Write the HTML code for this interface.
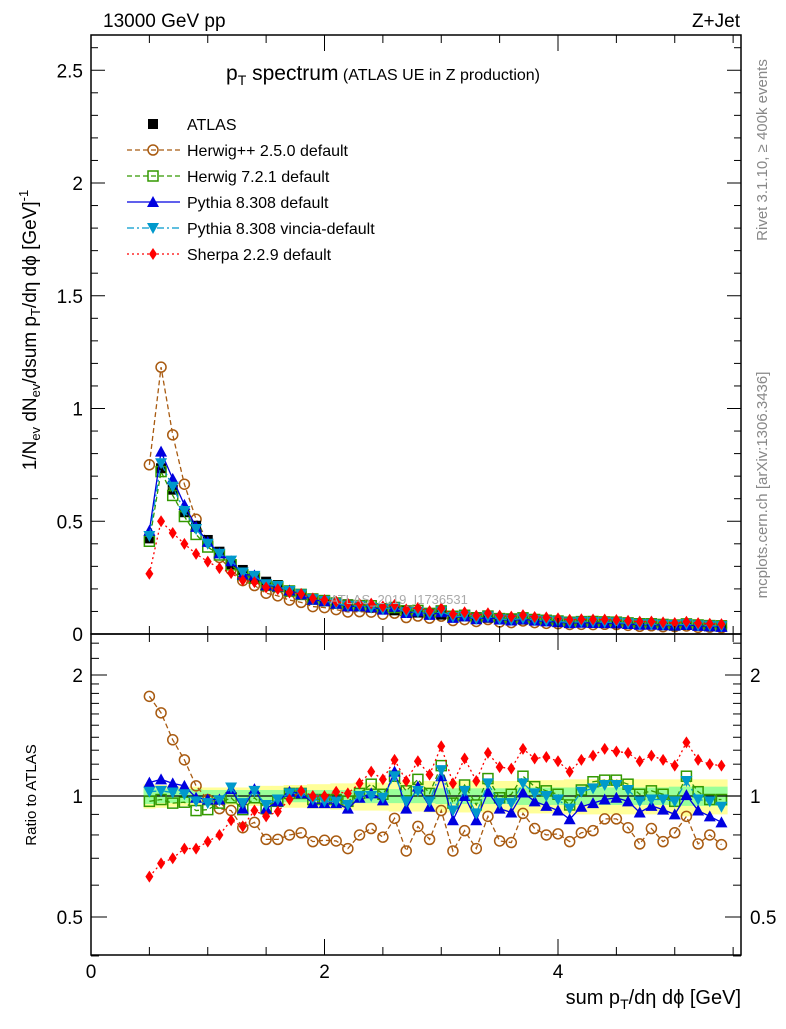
<!DOCTYPE html>
<html><head><meta charset="utf-8"><style>
body{margin:0;background:#fff}
svg text{font-family:"Liberation Sans",sans-serif}
</style></head><body>
<svg id="c" width="786" height="1024" xmlns="http://www.w3.org/2000/svg">
<defs>
<clipPath id="cm"><rect x="91" y="35" width="650" height="599"/></clipPath>
<clipPath id="cr"><rect x="91" y="634" width="650" height="321"/></clipPath>
</defs>
<g id="bands" clip-path="url(#cr)"></g>
<g id="main" clip-path="url(#cm)"></g>
<g id="ratio" clip-path="url(#cr)"></g>
<g id="axes"></g>
<text x="103" y="27" font-size="19">13000 GeV pp</text>
<text x="740" y="27" font-size="19" text-anchor="end">Z+Jet</text>
<text x="226" y="80" font-size="21">p<tspan font-size="14" dy="5">T</tspan><tspan dy="-5"> spectrum</tspan><tspan font-size="16"> (ATLAS UE in Z production)</tspan></text>
<text x="330" y="604" font-size="13" fill="#aaa">ATLAS_2019_I1736531</text>
<text transform="translate(767,150) rotate(-90)" font-size="15" fill="#888" text-anchor="middle">Rivet 3.1.10, ≥ 400k events</text>
<text transform="translate(767,485) rotate(-90)" font-size="15" fill="#888" text-anchor="middle">mcplots.cern.ch [arXiv:1306.3436]</text>
<text transform="translate(36,330) rotate(-90)" font-size="19" text-anchor="middle">1/N<tspan font-size="13" dy="4">ev</tspan><tspan dy="-4"> dN</tspan><tspan font-size="13" dy="4">ev</tspan><tspan dy="-4">/dsum p</tspan><tspan font-size="13" dy="4">T</tspan><tspan dy="-4">/dη dϕ  [GeV]</tspan><tspan font-size="13" dy="-8">-1</tspan></text>
<text transform="translate(36,795) rotate(-90)" font-size="15" text-anchor="middle">Ratio to ATLAS</text>
<text x="741" y="1004" font-size="20" text-anchor="end">sum p<tspan font-size="14" dy="5">T</tspan><tspan dy="-5">/dη dϕ [GeV]</tspan></text>
<g id="legend"></g>
</svg>
<script>
const xs=[0.5,0.6,0.7,0.8,0.9,1.0,1.1,1.2,1.3,1.4,1.5,1.6,1.7,1.8,1.9,2.0,2.1,2.2,2.3,2.4,2.5,2.6,2.7,2.8,2.9,3.0,3.1,3.2,3.3,3.4,3.5,3.6,3.7,3.8,3.9,4.0,4.1,4.2,4.3,4.4,4.5,4.6,4.7,4.8,4.9,5.0,5.1,5.2,5.3,5.4];
const atlas=[0.424,0.735,0.64,0.54,0.48,0.417,0.365,0.31,0.284,0.25,0.232,0.217,0.188,0.173,0.158,0.151,0.14,0.132,0.124,0.117,0.111,0.105,0.1,0.095,0.09,0.086,0.082,0.078,0.075,0.072,0.069,0.066,0.064,0.061,0.059,0.057,0.055,0.053,0.051,0.049,0.048,0.046,0.045,0.044,0.042,0.041,0.04,0.039,0.038,0.037];
const rHerwigpp=[1.77,1.61,1.38,1.23,1.06,0.98,0.93,0.92,0.834,0.86,0.78,0.78,0.80,0.81,0.77,0.776,0.773,0.74,0.80,0.83,0.79,0.88,0.73,0.84,0.78,0.92,0.73,0.82,0.74,0.89,0.773,0.766,0.905,0.83,0.80,0.805,0.77,0.81,0.82,0.877,0.877,0.834,0.76,0.83,0.77,0.81,0.89,0.76,0.80,0.757];
const rHerwig7=[0.97,0.98,0.96,0.965,0.92,0.925,0.96,0.99,0.925,0.99,0.93,0.97,1.015,1.015,0.98,0.98,0.98,0.97,1.015,1.07,1.01,1.12,1.03,1.10,1.015,1.19,0.96,1.065,0.95,1.105,0.99,1.01,1.12,1.055,1.03,1.01,0.95,1.035,1.085,1.095,1.095,1.07,1.01,1.03,1.01,0.97,1.12,1.025,0.98,0.98];
const rPythia=[1.08,1.10,1.075,1.06,0.99,0.98,0.98,1.04,0.93,1.04,0.93,0.97,1.025,1.015,0.96,0.96,0.96,0.93,0.99,1.015,0.975,1.15,0.93,1.055,0.94,1.12,0.87,1.0,0.87,1.025,0.93,0.91,1.02,0.97,0.945,0.92,0.875,0.94,0.96,0.98,0.99,0.97,0.91,0.945,0.925,0.90,1.005,0.92,0.89,0.86];
const rVincia=[1.025,1.03,1.02,1.01,0.97,0.96,0.975,1.05,0.96,1.03,0.95,0.98,1.015,1.015,0.98,0.97,0.97,0.95,1.0,1.0,0.99,1.12,0.97,1.03,0.97,1.16,0.92,1.03,0.905,1.075,0.96,0.96,1.075,1.015,1.0,0.98,0.93,1.025,1.045,1.065,1.065,1.035,0.97,0.98,0.98,0.97,1.09,0.98,0.97,0.94];
const rSherpa=[0.63,0.68,0.70,0.74,0.74,0.77,0.80,0.87,0.84,0.92,0.89,0.915,0.98,1.03,1.0,1.0,1.025,1.015,1.075,1.15,1.10,1.23,1.09,1.22,1.13,1.33,1.075,1.24,1.09,1.28,1.18,1.17,1.31,1.24,1.25,1.22,1.15,1.23,1.26,1.31,1.29,1.28,1.22,1.26,1.23,1.19,1.36,1.23,1.20,1.19];
const errInner=[0.045,0.04,0.04,0.04,0.04,0.035,0.035,0.035,0.035,0.035,0.035,0.035,0.035,0.035,0.035,0.035,0.035,0.035,0.04,0.04,0.04,0.04,0.04,0.04,0.04,0.045,0.045,0.045,0.045,0.045,0.045,0.045,0.05,0.05,0.05,0.05,0.05,0.05,0.05,0.05,0.05,0.05,0.05,0.05,0.05,0.055,0.055,0.055,0.055,0.055];
const errOuter=[0.07,0.065,0.06,0.055,0.055,0.05,0.05,0.05,0.05,0.055,0.06,0.06,0.065,0.065,0.07,0.07,0.075,0.075,0.08,0.08,0.08,0.085,0.085,0.085,0.09,0.09,0.09,0.09,0.09,0.09,0.09,0.09,0.09,0.095,0.095,0.095,0.1,0.1,0.1,0.1,0.1,0.1,0.1,0.1,0.1,0.1,0.11,0.1,0.1,0.1];
const mainTicks=[0,0.5,1,1.5,2,2.5];
const mainTickLabels=["0","0.5","1","1.5","2","2.5"];
const xTicks=[0,2,4];
const ratioTicks=[0.5,1,2];

const NS="http://www.w3.org/2000/svg";
const X=v=>91+v*116.75;
const YM=v=>634-v*225.5;
const YR=v=>796-Math.log2(v)*121;
function mk(tag,attrs,parent){const e=document.createElementNS(NS,tag);for(const k in attrs)e.setAttribute(k,attrs[k]);parent.appendChild(e);return e;}
const G=id=>document.getElementById(id);

// bands
xs.forEach((x,i)=>{
  const o=mk('rect',{x:X(x-0.05),width:116.75*0.1+0.3,y:YR(1+errOuter[i]),height:YR(1-errOuter[i])-YR(1+errOuter[i]),fill:'#ffff99'},G('bands'));
  
  
});
xs.forEach((x,i)=>{
  const o=mk('rect',{x:X(x-0.05),width:116.75*0.1+0.3,y:YR(1+errInner[i]),height:YR(1-errInner[i])-YR(1+errInner[i]),fill:'#99ff99'},G('bands'));
  
  
});
const one=mk('line',{x1:91,x2:741,y1:YR(1),y2:YR(1),stroke:'#000','stroke-width':1.3},G('bands'));



function marker(type,cx,cy,col,parent){
  if(type==='sq')return mk('rect',{x:cx-5,y:cy-5,width:10,height:10,fill:'#000'},parent);
  if(type==='osq')return mk('rect',{x:cx-5,y:cy-5,width:10,height:10,fill:'none',stroke:col,'stroke-width':1.5},parent);
  if(type==='oc')return mk('circle',{cx,cy,r:5,fill:'none',stroke:col,'stroke-width':1.5},parent);
  if(type==='tu')return mk('polygon',{points:`${cx},${cy-6} ${cx-6},${cy+5} ${cx+6},${cy+5}`,fill:col},parent);
  if(type==='td')return mk('polygon',{points:`${cx},${cy+6} ${cx-6},${cy-5} ${cx+6},${cy-5}`,fill:col},parent);
  if(type==='dm')return mk('polygon',{points:`${cx},${cy-6} ${cx-4},${cy} ${cx},${cy+6} ${cx+4},${cy}`,fill:col},parent);
}
const series=[
 {name:'herwigpp',r:rHerwigpp,col:'#a85a10',m:'oc',dash:'5,3'},
 {name:'herwig7',r:rHerwig7,col:'#339900',m:'osq',dash:'5,3'},
 {name:'pythia',r:rPythia,col:'#0000e0',m:'tu',dash:''},
 {name:'vincia',r:rVincia,col:'#0099cc',m:'td',dash:'7,3,2,3'},
 {name:'sherpa',r:rSherpa,col:'#ff0000',m:'dm',dash:'2,3'}
];
series.forEach(s=>{
  const vals=atlas.map((a,i)=>a*s.r[i]);
  const pm=mk('polyline',{points:xs.map((x,i)=>X(x)+','+YM(vals[i])).join(' '),fill:'none',stroke:s.col,'stroke-width':1.3,'stroke-dasharray':s.dash},G('main'));
  
  
  const pr=mk('polyline',{points:xs.map((x,i)=>X(x)+','+YR(s.r[i])).join(' '),fill:'none',stroke:s.col,'stroke-width':1.3,'stroke-dasharray':s.dash},G('ratio'));
  
  
  xs.forEach((x,i)=>{
    const a=marker(s.m,X(x),YM(vals[i]),s.col,G('main'));
    
    
    const b=marker(s.m,X(x),YR(s.r[i]),s.col,G('ratio'));
    
    
  });
  if(s.name==='herwigpp'){
    xs.forEach((x,i)=>{const a=marker('sq',X(x),YM(atlas[i]),'#000',G('main'));
      
      });
  }
});

// axes
const ax=G('axes');
[[91,35,650,599],[91,634,650,321]].forEach(r=>{const f=mk('rect',{x:r[0],y:r[1],width:r[2],height:r[3],fill:'none',stroke:'#000','stroke-width':1.5},ax);
  
  });
for(let v=0;v<=2.61;v+=0.1){const y=YM(v);const big=Math.abs(v*2-Math.round(v*2))<1e-6;const L=big?14:7;
  mk('line',{x1:91,x2:91+L,y1:y,y2:y,stroke:'#000'},ax);mk('line',{x1:741,x2:741-L,y1:y,y2:y,stroke:'#000'},ax);}
mainTicks.forEach((v,i)=>{const t=mk('text',{x:83,y:YM(v)+7,'font-size':19,'text-anchor':'end'},ax);t.textContent=mainTickLabels[i];
  
  });
for(let v=0;v<=5.5;v+=0.5){const x=X(v);const big=Math.abs(v/2-Math.round(v/2))<1e-6;const L=big?16:8;
  mk('line',{x1:x,x2:x,y1:955,y2:955-L,stroke:'#000'},ax);mk('line',{x1:x,x2:x,y1:634,y2:634+L,stroke:'#000'},ax);
  mk('line',{x1:x,x2:x,y1:634,y2:634-L,stroke:'#000'},ax);mk('line',{x1:x,x2:x,y1:35,y2:35+L,stroke:'#000'},ax);}
xTicks.forEach(v=>{const t=mk('text',{x:X(v),y:978,'font-size':19,'text-anchor':'middle'},ax);t.textContent=String(v);
  
  });
[0.4,0.5,0.6,0.7,0.8,0.9,1,1.1,1.2,1.3,1.4,1.5,1.6,1.7,1.8,1.9,2,2.2,2.4].forEach(v=>{const y=YR(v);const big=(v===0.5||v===1||v===2);const L=big?16:8;
  mk('line',{x1:91,x2:91+L,y1:y,y2:y,stroke:'#000'},ax);mk('line',{x1:741,x2:741-L,y1:y,y2:y,stroke:'#000'},ax);});
ratioTicks.forEach(v=>{const t=mk('text',{x:83,y:YR(v)+7,'font-size':19,'text-anchor':'end'},ax);t.textContent=String(v);
  
  
  const t2=mk('text',{x:750,y:YR(v)+7,'font-size':19},ax);t2.textContent=String(v);
  
  });

// legend
const lg=G('legend');
const labels=['ATLAS','Herwig++ 2.5.0 default','Herwig 7.2.1 default','Pythia 8.308 default','Pythia 8.308 vincia-default','Sherpa 2.2.9 default'];
labels.forEach((l,i)=>{const y=124+i*26;
  if(i>0){const s=series[i-1];mk('line',{x1:127,x2:180,y1:y,y2:y,stroke:s.col,'stroke-width':1.3,'stroke-dasharray':s.dash},lg);marker(s.m,153,y,s.col,lg);}
  else marker('sq',153,y,'#000',lg);
  const t=mk('text',{x:187,y:y+6,'font-size':16},lg);t.textContent=l;
  
  });
</script>
</body></html>
